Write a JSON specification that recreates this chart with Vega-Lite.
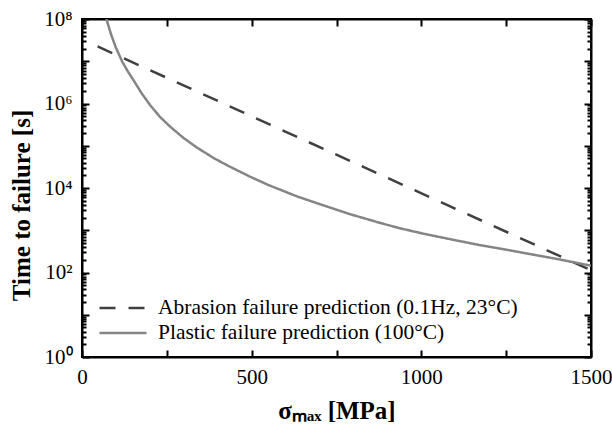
{
  "$schema": "https://vega.github.io/schema/vega-lite/v6.json",
  "width": 509,
  "height": 338,
  "autosize": {"type": "none"},
  "padding": {"left": 82, "top": 19, "right": 21, "bottom": 75},
  "background": "white",
  "config": {
    "view": {"stroke": "black", "strokeWidth": 2},
    "font": "Liberation Serif",
    "axis": {
      "grid": false,
      "domainColor": "black",
      "domainWidth": 2,
      "tickColor": "black",
      "tickWidth": 2,
      "labelFont": "Liberation Serif",
      "labelFontSize": 21,
      "labelColor": "black",
      "titleFont": "Liberation Serif",
      "titleFontSize": 25,
      "titleFontWeight": "bold",
      "titleColor": "black"
    }
  },
  "data": {
    "values": [
      {"sigma": 46, "t": 22400000, "series": "Abrasion failure prediction (0.1Hz, 23°C)"},
      {"sigma": 309, "t": 2470000, "series": "Abrasion failure prediction (0.1Hz, 23°C)"},
      {"sigma": 966, "t": 10000, "series": "Abrasion failure prediction (0.1Hz, 23°C)"},
      {"sigma": 1377, "t": 317, "series": "Abrasion failure prediction (0.1Hz, 23°C)"},
      {"sigma": 1500, "t": 113, "series": "Abrasion failure prediction (0.1Hz, 23°C)"},
      {"sigma": 72, "t": 100000000, "series": "Plastic failure prediction (100°C)"},
      {"sigma": 85, "t": 44700000, "series": "Plastic failure prediction (100°C)"},
      {"sigma": 100, "t": 20900000, "series": "Plastic failure prediction (100°C)"},
      {"sigma": 118, "t": 10000000, "series": "Plastic failure prediction (100°C)"},
      {"sigma": 135, "t": 5750000, "series": "Plastic failure prediction (100°C)"},
      {"sigma": 152, "t": 3550000, "series": "Plastic failure prediction (100°C)"},
      {"sigma": 175, "t": 1780000, "series": "Plastic failure prediction (100°C)"},
      {"sigma": 201, "t": 912000, "series": "Plastic failure prediction (100°C)"},
      {"sigma": 230, "t": 479000, "series": "Plastic failure prediction (100°C)"},
      {"sigma": 260, "t": 282000, "series": "Plastic failure prediction (100°C)"},
      {"sigma": 300, "t": 151000, "series": "Plastic failure prediction (100°C)"},
      {"sigma": 340, "t": 89100, "series": "Plastic failure prediction (100°C)"},
      {"sigma": 390, "t": 50100, "series": "Plastic failure prediction (100°C)"},
      {"sigma": 437, "t": 31600, "series": "Plastic failure prediction (100°C)"},
      {"sigma": 495, "t": 18600, "series": "Plastic failure prediction (100°C)"},
      {"sigma": 550, "t": 11700, "series": "Plastic failure prediction (100°C)"},
      {"sigma": 634, "t": 6310, "series": "Plastic failure prediction (100°C)"},
      {"sigma": 700, "t": 4170, "series": "Plastic failure prediction (100°C)"},
      {"sigma": 790, "t": 2400, "series": "Plastic failure prediction (100°C)"},
      {"sigma": 880, "t": 1480, "series": "Plastic failure prediction (100°C)"},
      {"sigma": 936, "t": 1120, "series": "Plastic failure prediction (100°C)"},
      {"sigma": 1005, "t": 832, "series": "Plastic failure prediction (100°C)"},
      {"sigma": 1090, "t": 603, "series": "Plastic failure prediction (100°C)"},
      {"sigma": 1171, "t": 447, "series": "Plastic failure prediction (100°C)"},
      {"sigma": 1250, "t": 347, "series": "Plastic failure prediction (100°C)"},
      {"sigma": 1318, "t": 275, "series": "Plastic failure prediction (100°C)"},
      {"sigma": 1400, "t": 209, "series": "Plastic failure prediction (100°C)"},
      {"sigma": 1500, "t": 145, "series": "Plastic failure prediction (100°C)"}
    ]
  },
  "resolve": {"axis": {"x": "independent", "y": "independent"}},
  "layer": [
    {
      "mark": {"type": "line", "strokeWidth": 2.5, "clip": true},
      "encoding": {
        "x": {
          "field": "sigma", "type": "quantitative",
          "scale": {"domain": [0, 1500], "nice": false, "zero": false},
          "axis": {
            "orient": "bottom",
            "values": [0, 250, 500, 750, 1000, 1250, 1500],
            "labelExpr": "datum.value % 500 == 0 ? '' + datum.value : ''",
            "tickSize": -7,
            "labelPadding": 16,
            "labelFlush": false,
            "title": "σₘₐₓ [MPa]",
            "titlePadding": 11
          }
        },
        "y": {
          "field": "t", "type": "quantitative",
          "scale": {"type": "log", "domain": [1, 100000000], "nice": false},
          "axis": {
            "orient": "left",
            "values": [1,2,3,4,5,6,7,8,9,10,20,30,40,50,60,70,80,90,100,200,300,400,500,600,700,800,900,1000,2000,3000,4000,5000,6000,7000,8000,9000,10000,20000,30000,40000,50000,60000,70000,80000,90000,100000,200000,300000,400000,500000,600000,700000,800000,900000,1000000,2000000,3000000,4000000,5000000,6000000,7000000,8000000,9000000,10000000,20000000,30000000,40000000,50000000,60000000,70000000,80000000,90000000,100000000],
            "tickSize": {"condition": {"test": "abs(log(datum.value)/LN10 - round(log(datum.value)/LN10)) < 0.000001", "value": -7}, "value": -4},
            "labelExpr": "(abs(log(datum.value)/LN10 - round(log(datum.value)/LN10)) < 0.000001 && round(log(datum.value)/LN10) % 2 == 0) ? '10' + ['⁰','¹','²','³','⁴','⁵','⁶','⁷','⁸'][round(log(datum.value)/LN10)] : ''",
            "labelPadding": 17,
            "labelFlush": false,
            "labelOverlap": false,
            "title": "Time to failure [s]",
            "titlePadding": 9,
            "titleY": 186
          }
        },
        "color": {
          "field": "series", "type": "nominal",
          "scale": {"domain": ["Abrasion failure prediction (0.1Hz, 23°C)", "Plastic failure prediction (100°C)"], "range": ["#404040", "#858585"]},
          "legend": {
            "orient": "none", "legendX": 16, "legendY": 278,
            "title": null, "symbolType": "stroke", "symbolSize": 2209,
            "symbolStrokeWidth": 2.5, "labelFont": "Liberation Serif",
            "labelFontSize": 21.5, "labelColor": "black", "labelOffset": 10,
            "rowPadding": 3, "clipHeight": 22, "padding": 0, "labelLimit": 500
          }
        },
        "strokeDash": {
          "field": "series", "type": "nominal",
          "scale": {"domain": ["Abrasion failure prediction (0.1Hz, 23°C)", "Plastic failure prediction (100°C)"], "range": [[16, 13], [1, 0]]},
          "legend": {
            "orient": "none", "legendX": 16, "legendY": 278,
            "title": null, "symbolType": "stroke", "symbolSize": 2209,
            "symbolStrokeWidth": 2.5, "labelFont": "Liberation Serif",
            "labelFontSize": 21.5, "labelColor": "black", "labelOffset": 10,
            "rowPadding": 3, "clipHeight": 22, "padding": 0, "labelLimit": 500
          }
        }
      }
    },
    {
      "mark": {"type": "point", "opacity": 0},
      "encoding": {
        "x": {
          "field": "sigma", "type": "quantitative",
          "axis": {
            "orient": "top",
            "values": [0, 250, 500, 750, 1000, 1250, 1500],
            "labels": false, "tickSize": -7, "title": null
          }
        },
        "y": {
          "field": "t", "type": "quantitative",
          "axis": {
            "orient": "right",
            "values": [1,2,3,4,5,6,7,8,9,10,20,30,40,50,60,70,80,90,100,200,300,400,500,600,700,800,900,1000,2000,3000,4000,5000,6000,7000,8000,9000,10000,20000,30000,40000,50000,60000,70000,80000,90000,100000,200000,300000,400000,500000,600000,700000,800000,900000,1000000,2000000,3000000,4000000,5000000,6000000,7000000,8000000,9000000,10000000,20000000,30000000,40000000,50000000,60000000,70000000,80000000,90000000,100000000],
            "tickSize": {"condition": {"test": "abs(log(datum.value)/LN10 - round(log(datum.value)/LN10)) < 0.000001", "value": -7}, "value": -4},
            "labels": false, "title": null
          }
        }
      }
    }
  ]
}
